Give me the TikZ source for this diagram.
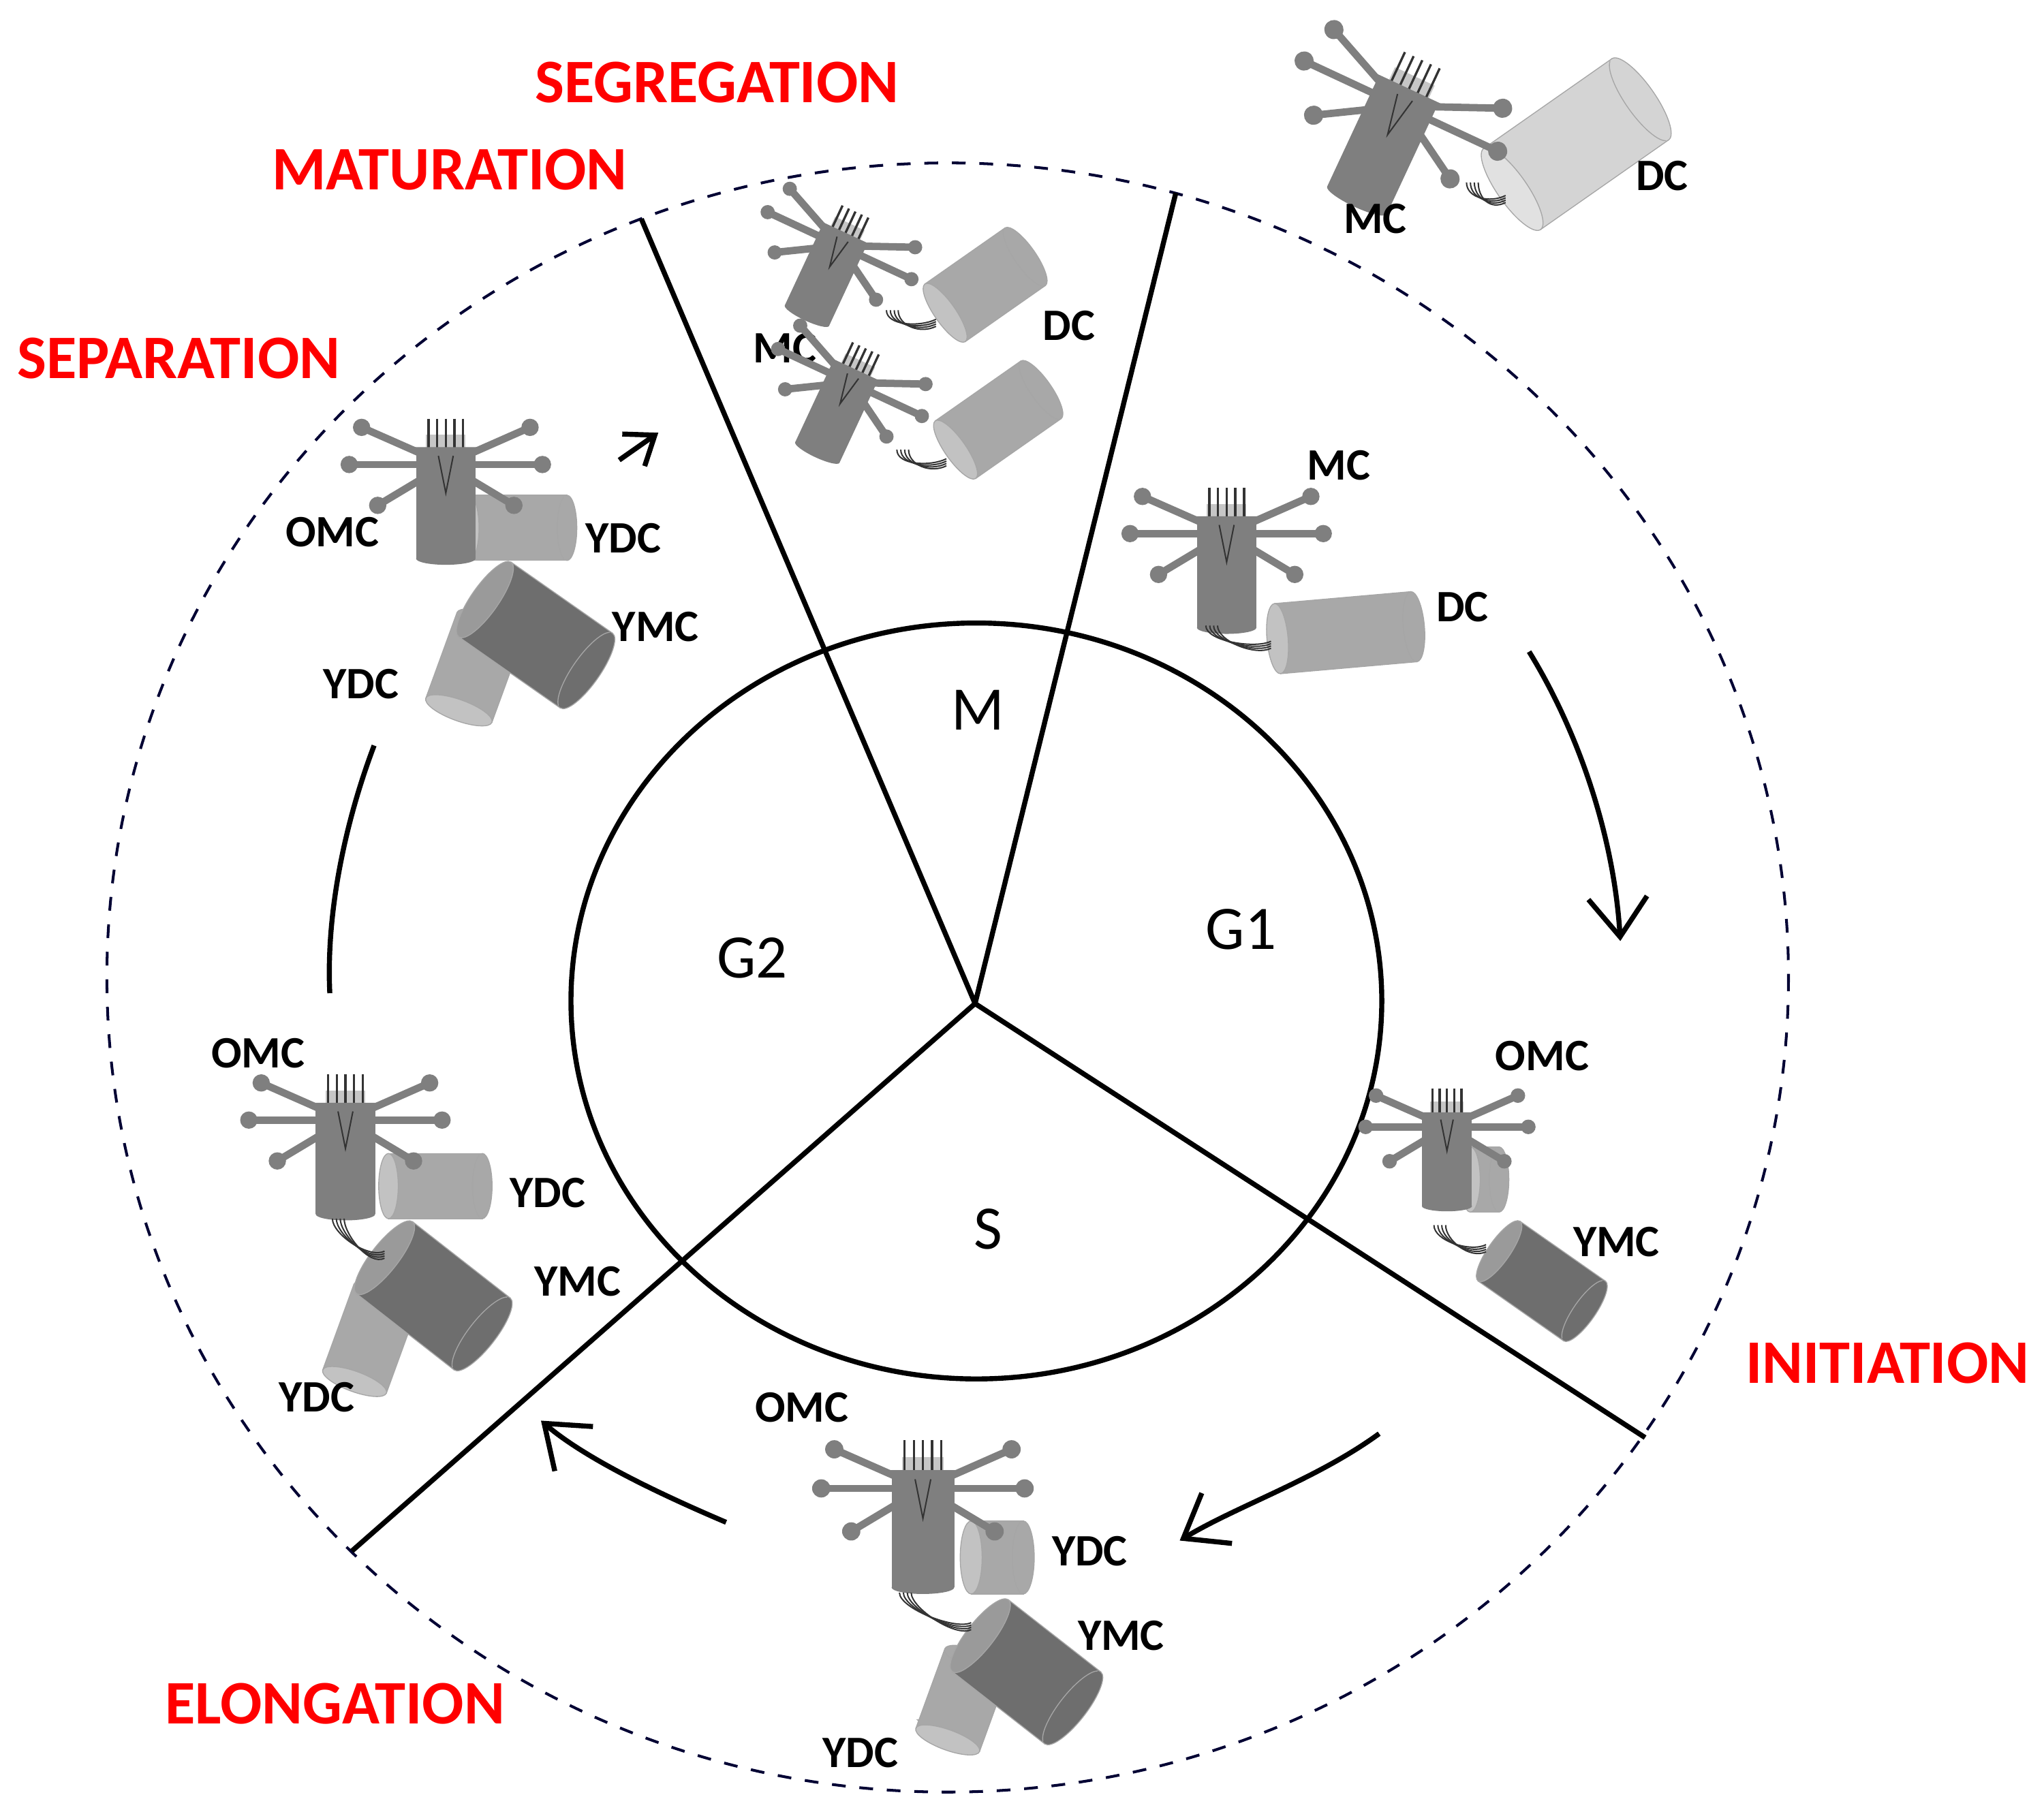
\documentclass[tikz,border=0pt]{standalone}
\usepackage{fontspec}
\setmainfont{Carlito}
\usetikzlibrary{arrows.meta}
\definecolor{mcg}{HTML}{7F7F7F}
\definecolor{dcg}{HTML}{A8A8A8}
\definecolor{lcg}{HTML}{D4D4D4}
\definecolor{ymg}{HTML}{6E6E6E}
\definecolor{redl}{HTML}{FF0000}
\tikzset{
 red label/.style={text=redl,font=\bfseries\fontsize{13.5}{14}\selectfont},
 cell label/.style={font=\bfseries\fontsize{9.8}{10}\selectfont},
 phase label/.style={font=\fontsize{13.5}{14}\selectfont},
 cyc/.style={line width=1.1pt},
 flow/.style={line width=1.1pt,-{Straight Barb[length=3mm,width=4.5mm]}},
}
% cylinder: pos, angle, length, radius, colour
\newcommand\cylz[5]{%
\begin{scope}[shift={#1},rotate=#2]
\fill[#5,draw=gray!70,line width=0.2pt] (0,-#4) rectangle (#3,#4);
\fill[#5,draw=gray!70,line width=0.2pt] (#3,0) ellipse ({0.3*#4} and #4);
\fill[#5] ({#3-2},-#4+0.5) rectangle (#3,#4-0.5);
\fill[#5!70!white,draw=gray!70,line width=0.2pt] (0,0) ellipse ({0.3*#4} and #4);
\end{scope}}
% mother cell: pos, angle, scale
\newcommand\mcellz[3]{%
\begin{scope}[shift={#1},rotate=#2,scale=#3]
\fill[gray!45] (-16,-12) rectangle (16,2);
\foreach \xx in {-14,-7,0,7,14}{\draw[gray!40!black,line width=0.5pt] (\xx,-25)--(\xx,0);}
\fill[mcg] (-24,0) rectangle (24,88);
\fill[mcg] (0,88) ellipse (24 and 5);
\foreach \ax/\ay in {-68/-18,-78/12,-55/45,68/-18,78/12,55/45}{
 \draw[mcg,line width=1.6pt] (0,12)--(\ax,\ay);
 \fill[mcg] (\ax,\ay) circle (7);}
\fill[mcg] (-26,-2)--(26,-2)--(5,38)--(-5,38)--cycle;
\fill[mcg] (0,40) circle (8);
\draw[gray!40!black,line width=0.3pt] (-6,5)--(0,35)--(6,5);
\end{scope}}
\newcommand\wirez[2]{%
\foreach \dd in {0,3,6,9}{\draw[black!80,line width=0.3pt] ($#1+(\dd,0)$) .. controls +(0,12) and +(-12,6) .. ($#2+(0,\dd*0.6)$);}}
\usetikzlibrary{calc}
\begin{document}
\begin{tikzpicture}[x=0.01cm,y=-0.01cm]
\useasboundingbox (0,0) rectangle (1568,1390);
% circles
\draw[dashed,line width=0.6pt,color=black!80!blue] (727,750) ellipse (645 and 625);
\draw[cyc] (749,768) ellipse (311 and 290);
\coordinate (O) at (748,770);
\coordinate (p1) at (492,168);
\coordinate (p2) at (902,148);
\coordinate (p3) at (1262,1103);
\coordinate (p4) at (270,1190);
\draw[cyc] (O)--(p1) (O)--(p2) (O)--(p3) (O)--(p4);
\node[phase label] (M) at (750,545) {M};
\node[phase label] (G2) at (577,735) {G2};
\node[phase label] (G1) at (952,713) {G1};
\node[phase label] (S) at (758,943) {S};
% red labels
\node[red label] (seg) at (550,63) {SEGREGATION};
\node[red label] (mat) at (345,130) {MATURATION};
\node[red label] (sep) at (137,275) {SEPARATION};
\node[red label] (ini) at (1448,1046) {INITIATION};
\node[red label] (elo) at (257,1307) {ELONGATION};
% arrows
\coordinate (a1) at (1173,500); \coordinate (a2) at (1243,722);
\draw[flow] (a1) .. controls (1210,560) and (1238,640) .. (a2);
\coordinate (b1) at (1058,1100); \coordinate (b2) at (905,1182);
\draw[flow] (b1) .. controls (1010,1135) and (950,1155) .. (b2);
\coordinate (c1) at (557,1168); \coordinate (c2) at (415,1090);
\draw[flow] (c1) .. controls (510,1148) and (450,1120) .. (c2);
\coordinate (d1) at (287,572); \coordinate (d2) at (253,762);
\draw[cyc] (d1) .. controls (265,630) and (250,700) .. (d2);
\coordinate (e1) at (475,353); \coordinate (e2) at (505,332);
\draw[line width=1.1pt,-{Straight Barb[length=2mm,width=3mm]}] (e1)--(e2);
% cell 1 top right
\cylz{(1160,145)}{35}{120}{38}{lcg}
\mcellz{(1080,70)}{-25}{1.05}
\wirez{(1125,140)}{(1155,150)}
\node[cell label] (mc1) at (1055,168) {MC};
\node[cell label] (dc1) at (1275,135) {DC};
% segregation cells
\cylz{(725,240)}{35}{75}{27}{dcg}
\mcellz{(648,180)}{-25}{0.78}
\wirez{(680,238)}{(718,245)}
\node[cell label] (mc2) at (602,267) {MC};
\node[cell label] (dc2) at (820,250) {DC};
\cylz{(733,345)}{35}{80}{27}{dcg}
\mcellz{(656,285)}{-25}{0.78}
\wirez{(688,345)}{(726,352)}
% G1 cell
\cylz{(980,490)}{5}{105}{27}{dcg}
\mcellz{(941,398)}{0}{0.95}
\wirez{(925,480)}{(975,492)}
\node[cell label] (mc3) at (1027,357) {MC};
\node[cell label] (dc3) at (1122,466) {DC};
% initiation
\cylz{(1128,905)}{0}{22}{25}{dcg}
\mcellz{(1110,855)}{0}{0.8}
\cylz{(1150,960)}{-35}{80}{28}{ymg}
\wirez{(1100,940)}{(1140,955)}
\node[cell label] (omc4) at (1183,810) {OMC};
\node[cell label] (ymc4) at (1240,953) {YMC};
% elongation
\cylz{(705,1320)}{70}{0}{1}{lcg}
\cylz{(745,1195)}{0}{40}{28}{dcg}
\mcellz{(708,1130)}{0}{1.0}
\cylz{(727,1335)}{70}{65}{26}{dcg}
\cylz{(752,1255)}{-38}{90}{35}{ymg}
\wirez{(690,1222)}{(745,1245)}
\node[cell label] (omc5) at (615,1080) {OMC};
\node[cell label] (ydc5) at (836,1190) {YDC};
\node[cell label] (ymc5) at (860,1255) {YMC};
\node[cell label] (ydc5b) at (660,1345) {YDC};
% separation lower
\cylz{(298,910)}{0}{72}{25}{dcg}
\mcellz{(265,848)}{0}{0.95}
\cylz{(272,1060)}{70}{70}{26}{dcg}
\cylz{(295,965)}{-38}{95}{35}{ymg}
\wirez{(255,935)}{(295,960)}
\node[cell label] (omc6) at (198,808) {OMC};
\node[cell label] (ydc6) at (420,915) {YDC};
\node[cell label] (ymc6) at (443,983) {YMC};
\node[cell label] (ydc6b) at (243,1072) {YDC};
% separation upper
\cylz{(360,405)}{0}{75}{25}{dcg}
\mcellz{(342,345)}{0}{0.95}
\cylz{(352,545)}{70}{70}{27}{dcg}
\cylz{(372,460)}{-35}{95}{35}{ymg}
\node[cell label] (omc7) at (255,408) {OMC};
\node[cell label] (ydc7) at (478,413) {YDC};
\node[cell label] (ymc7) at (503,481) {YMC};
\node[cell label] (ydc7b) at (277,525) {YDC};
\end{tikzpicture}
\end{document}
